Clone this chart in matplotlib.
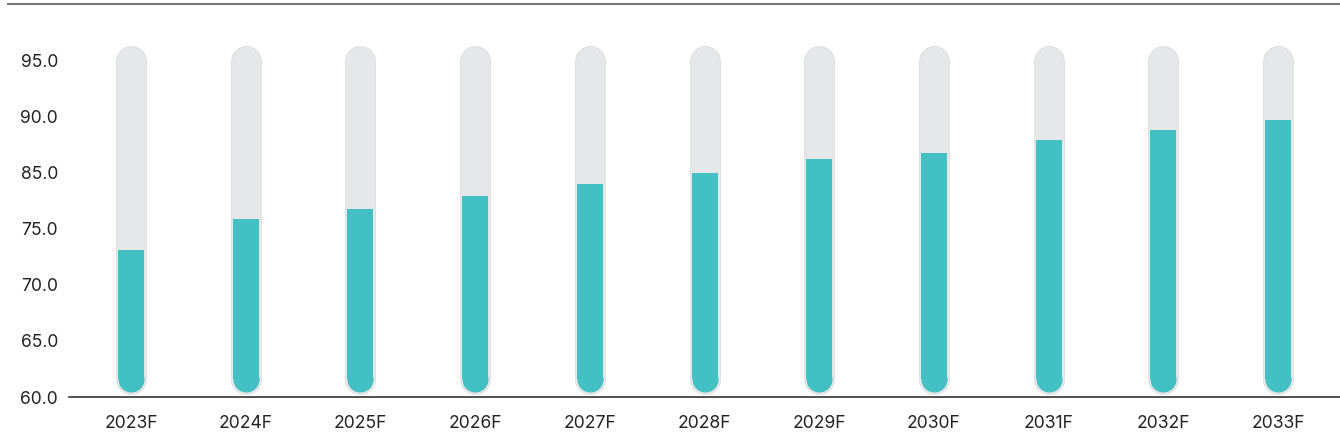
import matplotlib.pyplot as plt
from matplotlib.lines import Line2D

# data (values in the plotted scale; tick labels as printed)
years = ["2023F", "2024F", "2025F", "2026F", "2027F", "2028F",
         "2029F", "2030F", "2031F", "2032F", "2033F"]
values = [73.1, 75.9, 76.8, 77.9, 79.0, 80.0, 81.2, 81.8, 82.9, 83.8, 84.7]
tick_pos = [60, 65, 70, 75, 80, 85, 90]
tick_labels = ["60.0", "65.0", "70.0", "75.0", "85.0", "90.0", "95.0"]
track_top = 90.0

TEAL = "#43C0C3"
TRACK = "#E6E7E9"
TRACK_EDGE = "#DFE0E2"

plt.rcParams['font.family'] = ['Inter', 'DejaVu Sans']

DPI = 100
fig = plt.figure(figsize=(13.4, 4.48), dpi=DPI)
ax = fig.add_axes([69 / 1340, 51 / 448, 1 - 69 / 1340, 381 / 448])

px = 72 / DPI  # points per pixel
base = 61.65   # centre of the rounded bottom

xs = list(range(len(years)))
for x, v in zip(xs, values):
    # background track with rounded ends
    ax.plot([x, x], [base, track_top], color=TRACK_EDGE, lw=31 * px,
            solid_capstyle='round', zorder=1)
    ax.plot([x, x], [base, track_top], color=TRACK, lw=29 * px,
            solid_capstyle='round', zorder=2)
    # teal fill: flat top, round bottom
    ax.plot([x, x], [base, v], color=TEAL, lw=26 * px,
            solid_capstyle='butt', zorder=3)
    ax.scatter([x], [base], s=(26 * px) ** 2, color=TEAL, lw=0, zorder=3)

ax.set_xlim(-0.54, len(years) - 1 + 0.54)
ax.set_ylim(60, 94)
ax.set_xticks(xs)
ax.set_xticklabels(years)
ax.set_yticks(tick_pos)
ax.set_yticklabels(tick_labels)
ax.tick_params(axis='both', length=0, labelsize=12.6, colors='#222222')
ax.tick_params(axis='x', pad=13)
ax.tick_params(axis='y', pad=8)

for side in ['top', 'right', 'left']:
    ax.spines[side].set_visible(False)
ax.spines['bottom'].set_color('#333333')
ax.spines['bottom'].set_linewidth(1.2)

# thin rule along the top of the figure
fig.add_artist(Line2D([8 / 1340, 1], [1 - 4 / 448, 1 - 4 / 448],
                      color='#777777', lw=1.5))

fig.savefig("out.png", dpi=DPI)
